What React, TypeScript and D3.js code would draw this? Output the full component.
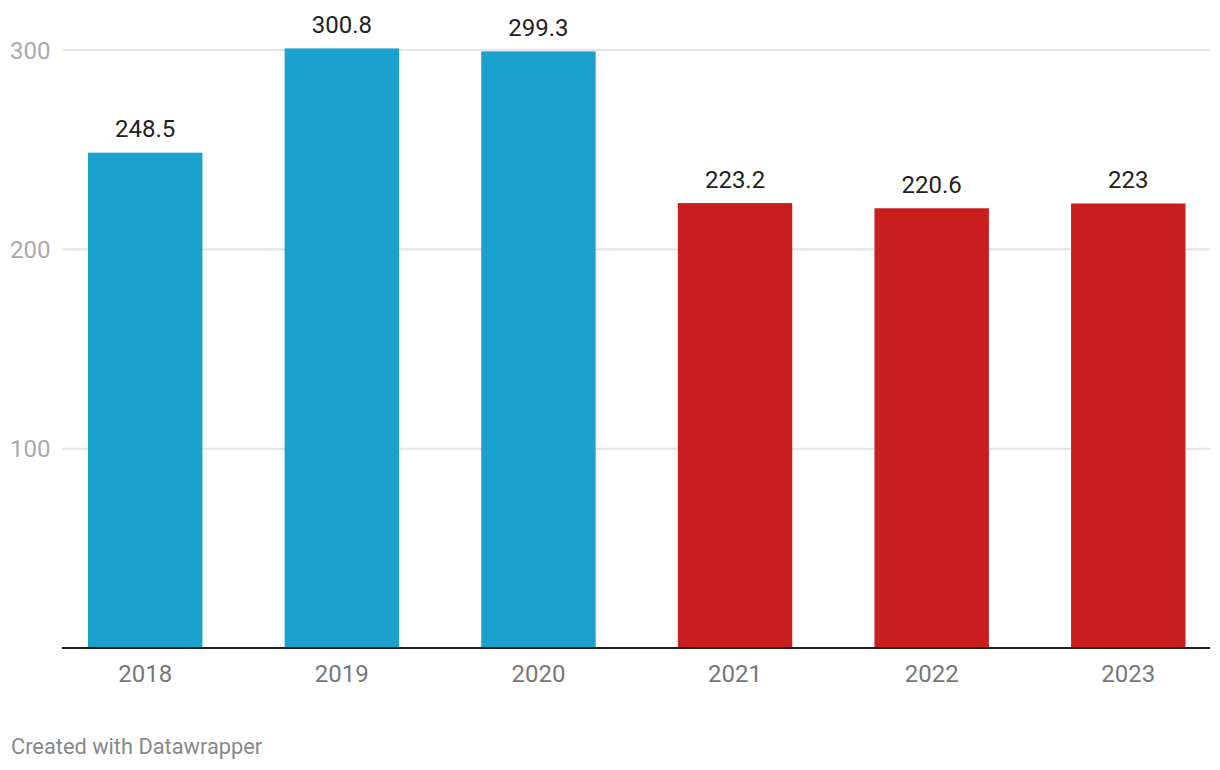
import React from "react";
import * as d3 from "d3";

const years = ["2018", "2019", "2020", "2021", "2022", "2023"];
const values = [248.5, 300.8, 299.3, 223.2, 220.6, 223];
const barColors = ["#1aa1cd", "#1aa1cd", "#1aa1cd", "#c81e1e", "#c81e1e", "#c81e1e"];
const yTicks = [100, 200, 300];
const footer = "Created with Datawrapper";

const W = 1220;
const H = 770;
const FONT = "Roboto, 'Noto Sans', sans-serif";

export default function App() {
  const x = d3.scaleBand<string>().domain(years).range([88, 1185.5]).paddingInner(0.418).paddingOuter(0);
  const y = d3.scaleLinear().domain([0, 300]).range([648, 50]);
  const axisX0 = 62;
  const axisX1 = 1210;

  return (
    <svg width={W} height={H} style={{ position: "absolute", left: 0, top: 0, background: "#fff" }} fontFamily={FONT}>
      {yTicks.map((t) => (
        <g key={t}>
          <line x1={axisX0 + 1} x2={axisX1} y1={y(t)} y2={y(t)} stroke="#e3e3e3" strokeWidth={2} />
          <text x={10} y={y(t) + 8.5} fontSize={24} fill="#aaaaaa">
            {t}
          </text>
        </g>
      ))}
      {years.map((yr, i) => (
        <g key={yr}>
          <rect
            x={x(yr)!}
            y={y(values[i])}
            width={x.bandwidth()}
            height={y(0) - y(values[i])}
            fill={barColors[i]}
          />
          <text
            x={x(yr)! + x.bandwidth() / 2}
            y={y(values[i]) - 15.5}
            textAnchor="middle"
            fontSize={24}
            fill="#222222"
          >
            {d3.format("")(values[i])}
          </text>
          <text x={x(yr)! + x.bandwidth() / 2} y={682} textAnchor="middle" fontSize={24} fill="#777777">
            {yr}
          </text>
        </g>
      ))}
      <line x1={axisX0} x2={axisX1} y1={y(0)} y2={y(0)} stroke="#222222" strokeWidth={2} />
      <text x={11} y={754} fontSize={21.8} fill="#888888">
        {footer}
      </text>
    </svg>
  );
}
